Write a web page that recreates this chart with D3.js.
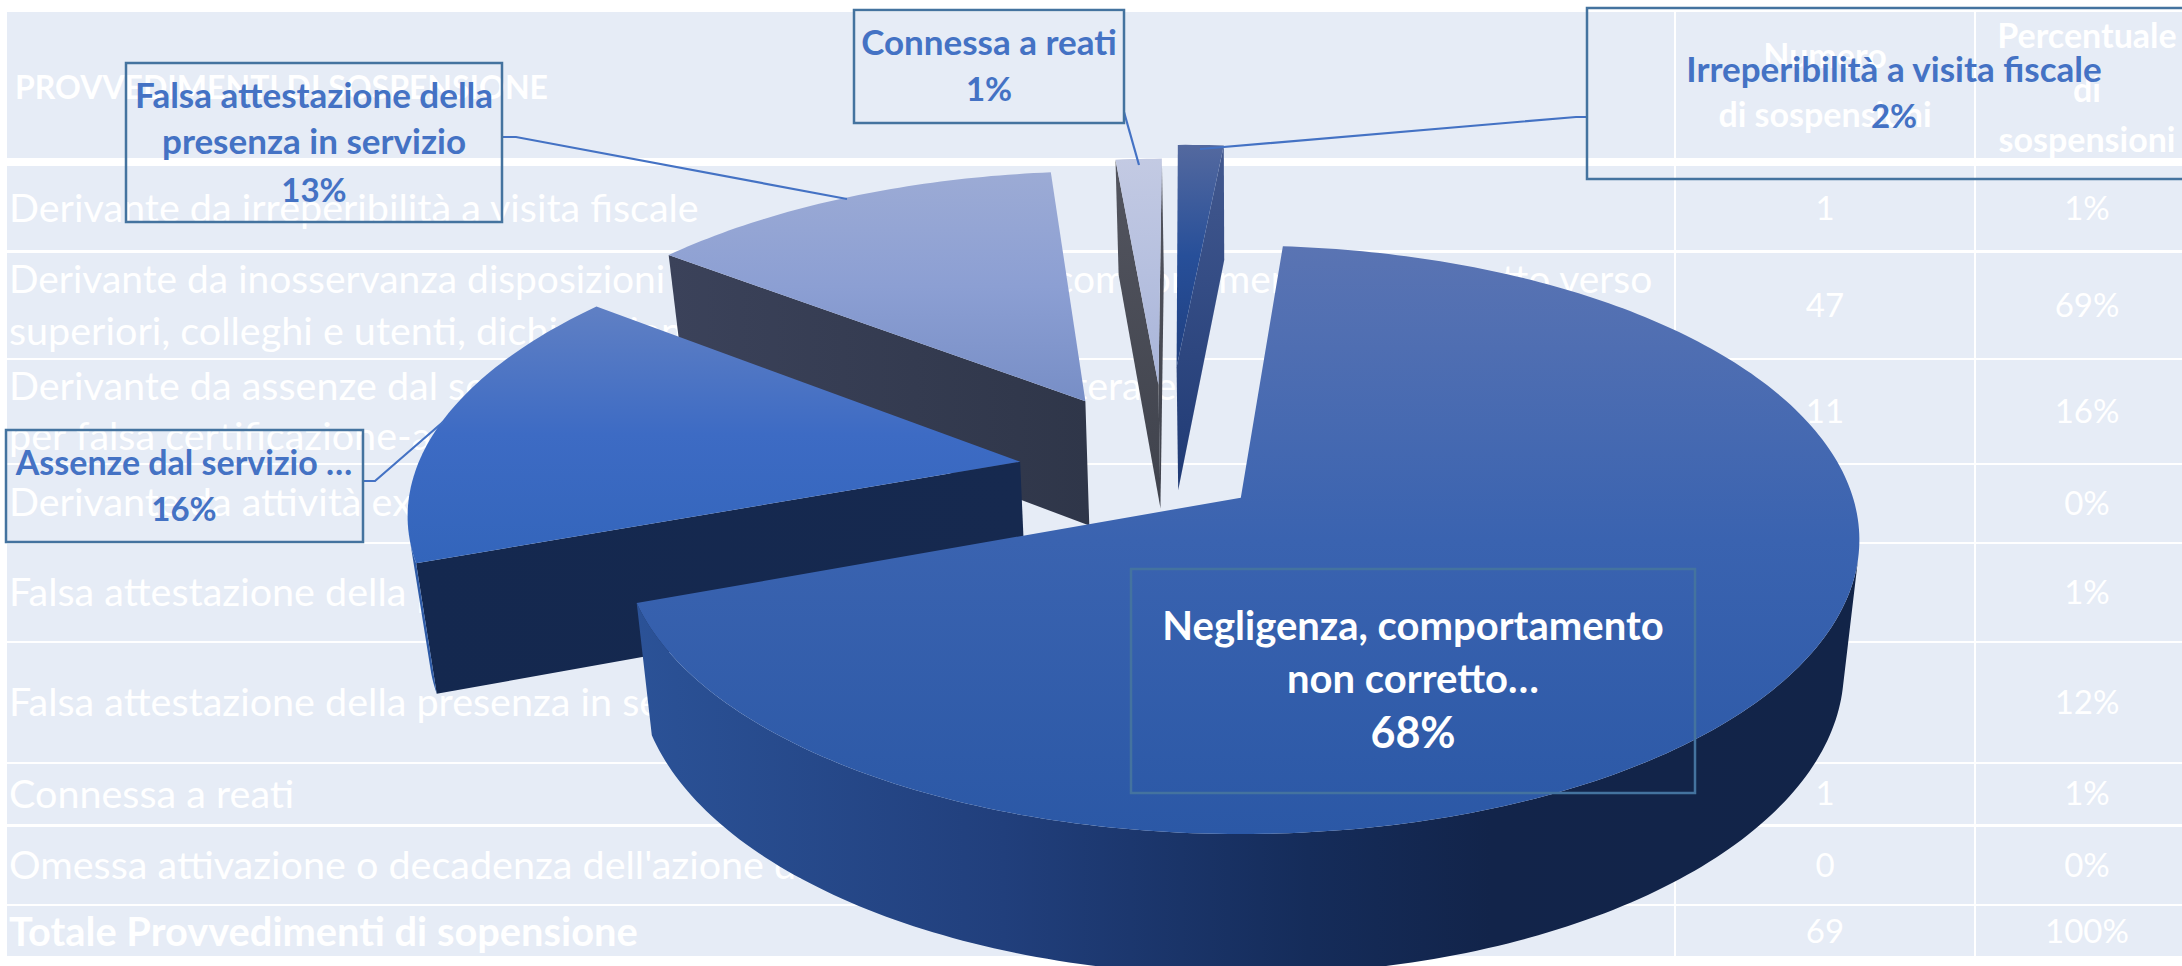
<!DOCTYPE html>
<html>
<head>
<meta charset="utf-8">
<script src="https://cdnjs.cloudflare.com/ajax/libs/d3/7.8.5/d3.min.js"></script>
<style>
  html, body { margin: 0; padding: 0; background: #fff; overflow: hidden; }
  text { font-family: Lato, "Open Sans", sans-serif; }
</style>
</head>
<body>
<div id="chart"></div>
<script>
// pie data
const sliceNames = ["Negligenza", "Assenze", "Falsa attestazione", "Connessa a reati", "Irreperibilita"];
const sliceValues = [68.1, 16, 13, 1.45, 1.45];
const sliceExplode = [0.15, 0.25, 0.30, 0.325, 0.394];
const sliceNudge = [0, 0, 0, -0.004, -0.0055];

const labelLines = [
  ["Negligenza, comportamento", "non corretto…", "68%"],
  ["Assenze dal servizio …", "16%"],
  ["Falsa attestazione della", "presenza in servizio", "13%"],
  ["Connessa a reati", "1%"],
  ["Irreperibilità a visita fiscale", "2%"]
];

// background table
const headerTitle = "PROVVEDIMENTI DI SOSPENSIONE";
const headerCounts = ["Numero", "di sospensioni"];
const headerShares = ["Percentuale", "di", "sospensioni"];
const rowTexts = [
  ["Derivante da irreperibilità a visita fiscale"],
  ["Derivante da inosservanza disposizioni di servizio, negligenza comportamento non corretto verso",
   "superiori, colleghi e utenti, dichiarazioni"],
  ["Derivante da assenze dal servizio ingiustificate, arbitrarie e reiterate",
   "per falsa certificazione-assenteismo"],
  ["Derivante da attività extra-istituzionali"],
  ["Falsa attestazione della presenza"],
  ["Falsa attestazione della presenza in servizio"],
  ["Connessa a reati"],
  ["Omessa attivazione o decadenza dell'azione disciplinare"],
  ["Totale Provvedimenti di sopensione"]
];
const rowCounts = ["1", "47", "11", "0", "1", "8", "1", "0", "69"];
const rowShares = ["1%", "69%", "16%", "0%", "1%", "12%", "1%", "0%", "100%"];

// layout
const width = 2182, height = 966;
const rowEdges = [[12, 158], [166, 250], [253, 358], [360, 463], [465, 542], [544, 641], [643, 762], [764, 824], [827, 904], [906, 956]];
const rowBaselines = [[222], [293, 345], [400, 450], [516], [606], [716], [808], [879], [946]];
const numberBaselines = [220, 317, 423, 515, 604, 714, 805, 877, 943];
const colLines = [1675, 1975];
const colCenters = [1825, 2087];

const labelBoxes = [
  { x: 1131, y: 569, w: 564, h: 224, cx: 1413, base: [640, 693, 748], size: [40, 40, 43], color: "#fff", leader: null },
  { x: 6, y: 430, w: 357, h: 112, cx: 184, base: [475, 521], size: [34, 33], color: "#4472c4", leader: [[363, 481], [375, 481], [443, 422]] },
  { x: 126, y: 63, w: 376, h: 159, cx: 314, base: [108, 154, 202], size: [35, 35, 33], color: "#4472c4", leader: [[502, 137], [516, 137], [847, 199]] },
  { x: 854, y: 10, w: 270, h: 113, cx: 989, base: [55, 101], size: [35, 33], color: "#4472c4", leader: [[1124, 112], [1139, 165]] },
  { x: 1587, y: 8, w: 620, h: 171, cx: 1894, base: [82, 128], size: [35, 33], color: "#4472c4", leader: [[1587, 117], [1576, 117], [1200, 149]] }
];

// perspective of the pie plane
const view = { x0: 1241, y0: 497, a: 612, b: 288, tilt: 0.143, depth: 128, shrink: 0.975 };
const pieCenter = [-0.12, -0.088];

const sliceStyles = [
  { top: ["#5a74b3", "#3a63b0", "#2b58a6"], side: ["#16294f", "#16294f"], wall: [[0, "#2b5297"], [0.3, "#213f7c"], [0.55, "#152c5a"], [0.7, "#12244a"], [1, "#122448"]] },
  { top: ["#6080c4", "#3d6bc4", "#3365bb"], side: ["#14284f", "#16294f"], wall: [[0, "#2d5aa6"], [1, "#2d5aa6"]] },
  { top: ["#9cabd5", "#8c9fd3", "#778ec6"], side: ["#3b425a", "#2f3649"], wall: [[0, "#3b425a"], [1, "#3b425a"]] },
  { top: ["#c3cae3", "#b6c0df", "#a8b4d9"], side: ["#53555f", "#3f424c"], wall: [[0, "#53555f"], [1, "#53555f"]] },
  { top: ["#54699f", "#274f99", "#1f3f80"], side: ["#43598f", "#1f3a75"], wall: [[0, "#43598f"], [1, "#43598f"]] }
];

const svg = d3.select("#chart").append("svg")
  .attr("width", width)
  .attr("height", height)
  .style("display", "block");
const defs = svg.append("defs");

// table
const table = svg.append("g");
table.selectAll("rect.row")
  .data(rowEdges)
  .join("rect")
  .attr("class", "row")
  .attr("x", 7)
  .attr("y", d => d[0])
  .attr("width", width - 7)
  .attr("height", d => d[1] - d[0])
  .attr("fill", "#e6ecf6");

table.selectAll("line.col")
  .data(colLines)
  .join("line")
  .attr("class", "col")
  .attr("x1", d => d).attr("x2", d => d)
  .attr("y1", 12).attr("y2", 956)
  .attr("stroke", "#fff")
  .attr("stroke-width", 2);

function cellText(x, y, str, anchor, weight, size) {
  table.append("text")
    .attr("x", x)
    .attr("y", y)
    .attr("text-anchor", anchor)
    .attr("font-size", size)
    .attr("font-weight", weight)
    .attr("fill", "#fff")
    .text(str);
}

cellText(15, 99, headerTitle, "start", 700, 32);
headerCounts.forEach((t, i) => cellText(colCenters[0], [68, 127][i], t, "middle", 700, 34));
headerShares.forEach((t, i) => cellText(colCenters[1], [48, 102, 152][i], t, "middle", 700, 34));

rowTexts.forEach((lines, r) => {
  const last = r === rowTexts.length - 1;
  lines.forEach((t, i) => {
    // the long second row runs a little tighter than the others
    const size = last ? 39.8 : (r === 1 && i === 0 ? 38.9 : 39.5);
    cellText(9, rowBaselines[r][i], t, "start", last ? 700 : 400, size);
  });
  cellText(colCenters[0], numberBaselines[r], rowCounts[r], "middle", 400, 33);
  cellText(colCenters[1], numberBaselines[r], rowShares[r], "middle", 400, 33);
});

// pie
const slices = d3.pie()
  .sort(null)
  .startAngle(4.5 * Math.PI / 180)
  .endAngle(364.5 * Math.PI / 180)
  .value(d => d)(sliceValues);

function project(u, v, z) {
  const w = 1 - view.tilt * v;
  const s = 1 - (1 - view.shrink) * z;
  return [view.x0 + view.a * s * u / w, view.y0 + (view.b * s * v + view.depth * z) / w];
}

const linePath = d3.line();

function addGradient(id, stops, horizontal) {
  const g = defs.append("linearGradient")
    .attr("id", id)
    .attr("x1", 0).attr("y1", 0)
    .attr("x2", horizontal ? 1 : 0)
    .attr("y2", horizontal ? 0 : 1);
  stops.forEach(s => g.append("stop").attr("offset", s[0]).attr("stop-color", s[1]));
}

const pieLayer = svg.append("g");

// far slices first, big slice last
d3.range(slices.length - 1, -1, -1).forEach(i => {
  const d = slices[i];
  const st = sliceStyles[i];
  const mid = (d.startAngle + d.endAngle) / 2;
  const ox = pieCenter[0] + sliceNudge[i] + sliceExplode[i] * Math.sin(mid);
  const oy = pieCenter[1] - sliceExplode[i] * Math.cos(mid);
  const rim = (a, z) => project(ox + Math.sin(a), oy - Math.cos(a), z);
  const apex = z => project(ox, oy, z);

  addGradient("top" + i, st.top.map((c, k) => [k / (st.top.length - 1), c]), false);
  addGradient("side" + i, st.side.map((c, k) => [k / (st.side.length - 1), c]), i < 3);
  addGradient("wall" + i, st.wall, true);

  const steps = Math.max(6, Math.round((d.endAngle - d.startAngle) * 60));
  const angles = d3.range(steps + 1).map(k => d.startAngle + (d.endAngle - d.startAngle) * k / steps);

  const quads = [
    [apex(0), rim(d.startAngle, 0), rim(d.startAngle, 1), apex(1)],
    [rim(d.endAngle, 0), apex(0), apex(1), rim(d.endAngle, 1)]
  ];
  quads.forEach(q => {
    // d3.polygonArea is positive for faces turned to the viewer here
    if (d3.polygonArea(q) > 0) {
      pieLayer.append("path")
        .attr("d", linePath(q) + "Z")
        .attr("fill", `url(#side${i})`);
    }
  });

  // outer wall, only the part that faces the viewer
  const front = angles.filter((a, k) => {
    const c = k < steps ? a : angles[k - 1];
    const e = k < steps ? angles[k + 1] : a;
    return d3.polygonArea([rim(c, 0), rim(e, 0), rim(e, 1), rim(c, 1)]) > 0;
  });
  if (front.length > 1) {
    const wall = front.map(a => rim(a, 0)).concat(front.slice().reverse().map(a => rim(a, 1)));
    pieLayer.append("path")
      .attr("d", linePath(wall) + "Z")
      .attr("fill", `url(#wall${i})`);
  }

  const face = [apex(0)].concat(angles.map(a => rim(a, 0)));
  pieLayer.append("path")
    .attr("d", linePath(face) + "Z")
    .attr("fill", `url(#top${i})`);
});

// data labels
const labels = svg.append("g");
labelBoxes.forEach((b, i) => {
  if (b.leader) {
    labels.append("path")
      .attr("d", linePath(b.leader))
      .attr("fill", "none")
      .attr("stroke", "#4472c4")
      .attr("stroke-width", 2.2);
  }
  labels.append("rect")
    .attr("x", b.x).attr("y", b.y)
    .attr("width", b.w).attr("height", b.h)
    .attr("fill", "none")
    .attr("stroke", "#44739f")
    .attr("stroke-width", 2.5);
  labelLines[i].forEach((t, k) => {
    labels.append("text")
      .attr("x", b.cx)
      .attr("y", b.base[k])
      .attr("text-anchor", "middle")
      .attr("font-size", b.size[k])
      .attr("font-weight", 700)
      .attr("fill", b.color)
      .text(t);
  });
});
</script>
</body>
</html>
